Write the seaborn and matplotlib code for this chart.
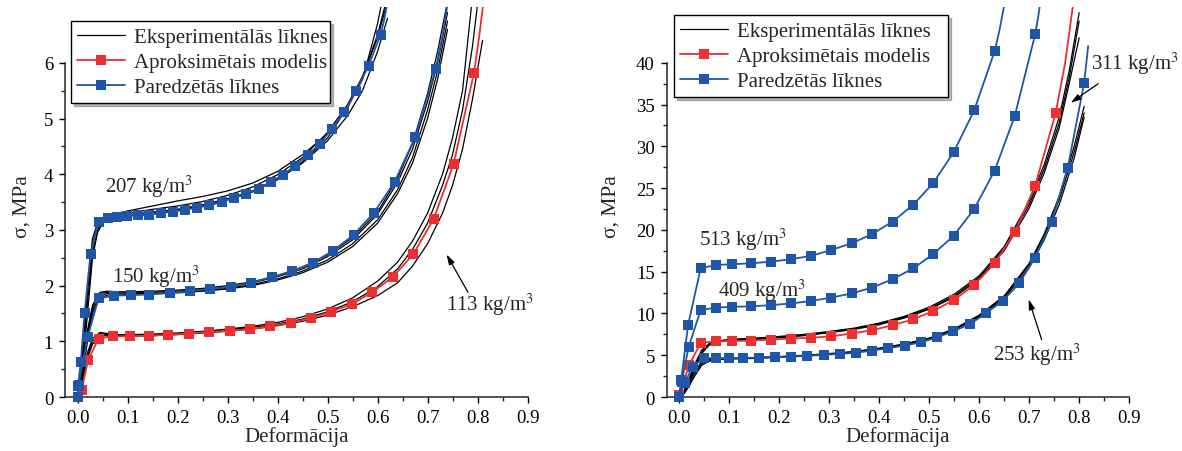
import numpy as np
import matplotlib
matplotlib.use("Agg")
import matplotlib.pyplot as plt
import seaborn as sns
from matplotlib.lines import Line2D
from matplotlib.ticker import MultipleLocator, FixedLocator, FormatStrFormatter

## Data (strain, stress in MPa)

## left panel - experimental curves
EXP_113_STRAIN = [0.0, 0.01, 0.02, 0.03, 0.045, 0.06, 0.08, 0.1, 0.15, 0.2, 0.25, 0.3, 0.35,
                  0.4, 0.45, 0.5, 0.55, 0.6, 0.64, 0.67, 0.7, 0.73, 0.75, 0.77, 0.79, 0.81]
EXP_113_A = [0, 0.35, 0.8, 1.05, 1.16, 1.14, 1.12, 1.12, 1.13, 1.15, 1.18, 1.22, 1.27,
             1.34, 1.44, 1.58, 1.78, 2.08, 2.42, 2.8, 3.3, 4.0, 4.65, 5.5, 7.2, 8.5]
EXP_113_B = [0, 0.3, 0.75, 1.0, 1.14, 1.12, 1.11, 1.11, 1.12, 1.14, 1.17, 1.21, 1.25,
             1.31, 1.4, 1.53, 1.71, 1.98, 2.3, 2.65, 3.12, 3.8, 4.35, 5.15, 6.3, 7.8]
EXP_113_C = [0, 0.25, 0.7, 0.95, 1.1, 1.1, 1.09, 1.09, 1.1, 1.12, 1.15, 1.18, 1.22,
             1.28, 1.36, 1.47, 1.62, 1.82, 2.05, 2.35, 2.75, 3.3, 3.8, 4.45, 5.35, 6.4]

EXP_150_STRAIN = [0.0, 0.01, 0.02, 0.03, 0.045, 0.06, 0.08, 0.1, 0.15, 0.2, 0.25, 0.3, 0.35,
                  0.4, 0.45, 0.5, 0.55, 0.6, 0.64, 0.67, 0.7, 0.72, 0.74]
EXP_150_A = [0, 0.5, 1.15, 1.6, 1.86, 1.88, 1.87, 1.87, 1.88, 1.9, 1.93, 1.98, 2.05,
             2.16, 2.3, 2.52, 2.82, 3.28, 3.85, 4.45, 5.3, 6.0, 6.9]
EXP_150_B = [0, 0.45, 1.1, 1.55, 1.82, 1.86, 1.85, 1.85, 1.86, 1.88, 1.91, 1.95, 2.02,
             2.12, 2.26, 2.46, 2.75, 3.18, 3.72, 4.3, 5.15, 5.85, 6.75]
EXP_150_C = [0, 0.55, 1.2, 1.65, 1.88, 1.9, 1.89, 1.89, 1.9, 1.92, 1.95, 2.0, 2.07,
             2.18, 2.33, 2.55, 2.86, 3.32, 3.92, 4.55, 5.45, 6.2, 7.1]
EXP_150_D = [0, 0.4, 1.0, 1.5, 1.78, 1.83, 1.83, 1.84, 1.85, 1.87, 1.9, 1.94, 2.0,
             2.1, 2.23, 2.42, 2.7, 3.12, 3.65, 4.2, 5.0, 5.7, 6.6]

EXP_207_STRAIN = [0.0, 0.01, 0.02, 0.03, 0.04, 0.05, 0.07, 0.1, 0.15, 0.2, 0.25, 0.3, 0.35,
                  0.4, 0.45, 0.5, 0.54, 0.57, 0.6, 0.62]
EXP_207_A = [0, 0.8, 2.0, 2.85, 3.12, 3.22, 3.28, 3.34, 3.43, 3.52, 3.6, 3.7, 3.84,
             4.05, 4.35, 4.72, 5.2, 5.7, 6.7, 7.6]
EXP_207_B = [0, 0.6, 1.7, 2.6, 3.0, 3.15, 3.23, 3.27, 3.32, 3.37, 3.45, 3.56, 3.7,
             3.92, 4.22, 4.65, 5.2, 5.75, 6.45, 7.1]
EXP_207_C = [0, 0.5, 1.5, 2.5, 2.95, 3.12, 3.2, 3.25, 3.3, 3.36, 3.43, 3.54, 3.68,
             3.9, 4.2, 4.6, 5.05, 5.5, 6.2, 6.8]
EXP_207_D = [0, 0.7, 1.9, 2.75, 3.08, 3.2, 3.26, 3.3, 3.37, 3.43, 3.51, 3.62, 3.77,
             3.99, 4.3, 4.75, 5.25, 5.75, 6.5, 7.2]

## left panel - model (red) and predicted (blue); last two points are line only
MOD_113_STRAIN = [0.0, 0.008, 0.021, 0.042, 0.071, 0.105, 0.142, 0.181, 0.223, 0.263, 0.304,
                  0.345, 0.385, 0.426, 0.467, 0.507, 0.549, 0.589, 0.630, 0.671, 0.712,
                  0.752, 0.793, 0.803, 0.812]
MOD_113_STRESS = [0.0, 0.12, 0.66, 1.05, 1.09, 1.09, 1.10, 1.12, 1.14, 1.17, 1.19,
                  1.22, 1.27, 1.33, 1.42, 1.53, 1.67, 1.88, 2.15, 2.56, 3.19,
                  4.18, 5.82, 6.45, 7.1]

PRED_150_STRAIN = [0.0, 0.002, 0.020, 0.042, 0.073, 0.107, 0.143, 0.184, 0.224, 0.265, 0.306,
                   0.347, 0.388, 0.429, 0.470, 0.510, 0.552, 0.593, 0.634, 0.675, 0.716,
                   0.730, 0.741]
PRED_150_STRESS = [0.0, 0.22, 1.07, 1.77, 1.82, 1.83, 1.84, 1.87, 1.90, 1.94, 1.98,
                   2.05, 2.15, 2.26, 2.41, 2.62, 2.91, 3.31, 3.86, 4.66, 5.88,
                   6.5, 7.1]

PRED_207_STRAIN = [0.0, 0.001, 0.0066, 0.014, 0.026, 0.042, 0.060, 0.079, 0.099, 0.120, 0.142,
                   0.166, 0.190, 0.214, 0.239, 0.263, 0.288, 0.312, 0.337, 0.362, 0.386,
                   0.411, 0.435, 0.460, 0.484, 0.508, 0.533, 0.557, 0.582, 0.606,
                   0.614, 0.620]
PRED_207_STRESS = [0.0, 0.2, 0.63, 1.50, 2.56, 3.15, 3.22, 3.24, 3.25, 3.26, 3.27,
                   3.30, 3.33, 3.36, 3.40, 3.44, 3.50, 3.57, 3.65, 3.74, 3.86,
                   3.99, 4.15, 4.34, 4.54, 4.81, 5.11, 5.49, 5.95, 6.50,
                   6.8, 7.1]

## right panel - experimental curves
EXP_253_STRAIN = [0.0, 0.01, 0.02, 0.03, 0.045, 0.06, 0.08, 0.1, 0.15, 0.2, 0.25, 0.3, 0.35,
                  0.4, 0.45, 0.5, 0.55, 0.6, 0.65, 0.7, 0.73, 0.76, 0.79, 0.81]
EXP_253_A = [0, 0.6, 1.8, 3.0, 4.2, 4.5, 4.6, 4.65, 4.72, 4.85, 5.0, 5.2, 5.45,
             5.85, 6.35, 7.05, 8.15, 9.8, 12.1, 16.0, 19.5, 24.0, 30.0, 34.8]
EXP_253_B = [0, 0.5, 1.5, 2.7, 4.0, 4.4, 4.55, 4.6, 4.68, 4.8, 4.95, 5.15, 5.4,
             5.8, 6.3, 7.0, 8.1, 9.7, 12.0, 15.8, 19.2, 23.6, 29.3, 34.0]
EXP_253_C = [0, 0.4, 1.3, 2.4, 3.8, 4.3, 4.5, 4.55, 4.62, 4.75, 4.9, 5.1, 5.35,
             5.75, 6.25, 6.95, 8.0, 9.6, 11.8, 15.5, 18.8, 23.0, 28.6, 33.5]

EXP_311_STRAIN = [0.0, 0.01, 0.02, 0.03, 0.045, 0.06, 0.08, 0.1, 0.15, 0.2, 0.25, 0.3, 0.35,
                  0.4, 0.45, 0.5, 0.55, 0.6, 0.65, 0.7, 0.73, 0.76, 0.78, 0.8]
EXP_311_A = [0, 0.8, 2.2, 3.8, 5.6, 6.4, 6.75, 6.9, 7.05, 7.25, 7.5, 7.85, 8.25,
             8.85, 9.65, 10.75, 12.3, 14.5, 18.0, 23.4, 27.8, 33.5, 39.0, 46.0]
EXP_311_B = [0, 0.6, 1.9, 3.5, 5.4, 6.3, 6.65, 6.8, 6.95, 7.15, 7.4, 7.75, 8.15,
             8.75, 9.55, 10.6, 12.1, 14.3, 17.8, 23.0, 27.3, 32.8, 38.2, 45.0]
EXP_311_C = [0, 0.5, 1.7, 3.3, 5.2, 6.2, 6.6, 6.75, 6.9, 7.1, 7.35, 7.7, 8.1,
             8.65, 9.45, 10.5, 11.95, 14.1, 17.5, 22.6, 26.8, 32.2, 37.5, 43.0]

## right panel - model (red) and predicted (blue); trailing points are line only
MOD_311_STRAIN = [0.0, 0.020, 0.043, 0.073, 0.106, 0.143, 0.183, 0.224, 0.264, 0.304, 0.345,
                  0.386, 0.427, 0.468, 0.508, 0.549, 0.590, 0.631, 0.671, 0.712, 0.753,
                  0.772, 0.789]
MOD_311_STRESS = [0.2, 3.8, 6.5, 6.67, 6.7, 6.75, 6.87, 7.0, 7.1, 7.27, 7.6,
                  8.0, 8.6, 9.3, 10.3, 11.6, 13.4, 16.0, 19.7, 25.3, 34.0,
                  40.0, 47.5]

PRED_253_STRAIN = [0.0, 0.011, 0.027, 0.049, 0.073, 0.100, 0.128, 0.159, 0.191, 0.224, 0.256,
                   0.289, 0.321, 0.353, 0.386, 0.418, 0.451, 0.483, 0.516, 0.548, 0.582,
                   0.613, 0.647, 0.680, 0.712, 0.745, 0.777, 0.810, 0.818]
PRED_253_STRESS = [0.0, 1.7, 3.6, 4.65, 4.65, 4.65, 4.7, 4.7, 4.77, 4.85, 4.93,
                   5.05, 5.16, 5.3, 5.56, 5.84, 6.16, 6.55, 7.15, 7.87, 8.74,
                   10.0, 11.5, 13.6, 16.7, 21.0, 27.4, 37.6, 42.0]

PRED_409_STRAIN = [0.0, 0.005, 0.019, 0.043, 0.073, 0.106, 0.143, 0.183, 0.224, 0.264, 0.304,
                   0.345, 0.386, 0.427, 0.468, 0.508, 0.549, 0.590, 0.631, 0.671, 0.712,
                   0.718, 0.723]
PRED_409_STRESS = [0.0, 1.8, 6.0, 10.4, 10.7, 10.8, 10.85, 11.0, 11.2, 11.5, 11.9,
                   12.4, 13.1, 14.1, 15.4, 17.1, 19.3, 22.5, 27.1, 33.6, 43.4,
                   45.5, 47.5]

PRED_513_STRAIN = [0.0, 0.004, 0.018, 0.043, 0.073, 0.106, 0.143, 0.183, 0.224, 0.264, 0.304,
                   0.345, 0.386, 0.427, 0.468, 0.508, 0.549, 0.590, 0.631,
                   0.641, 0.652]
PRED_513_STRESS = [0.0, 2.0, 8.66, 15.4, 15.8, 15.9, 16.0, 16.2, 16.5, 16.9, 17.6,
                   18.4, 19.5, 21.0, 23.0, 25.6, 29.3, 34.3, 41.4,
                   44.0, 47.5]

LEGEND_LABELS = ["Eksperimentālās līknes", "Aproksimētais modelis", "Paredzētās līknes"]

## Style

BLACK = "black"
RED = "#ee2f2f"
BLUE = "#1f56a8"
MS = 6.8

sns.set_style("ticks")
plt.rcParams["font.family"] = ["Liberation Serif", "DejaVu Serif"]
plt.rcParams["mathtext.fontset"] = "stix"


def exp_curves(ax, strain, curves):
    for ys in curves:
        sns.lineplot(x=strain, y=ys, ax=ax, color=BLACK, lw=0.9,
                     estimator=None, sort=False, legend=False, zorder=2)


def fit_curve(ax, strain, stress, color, n_tail):
    n_mark = len(strain) - n_tail
    sns.lineplot(x=strain, y=stress, ax=ax, color=color, lw=1.3,
                 estimator=None, sort=False, legend=False, zorder=3,
                 marker="s", markersize=MS, markeredgewidth=0,
                 markevery=list(range(n_mark)))


def style_axes(ax, ytop, ymax_tick, ymajor, yminor, ylabelpad):
    ax.set_xlim(-0.025, 0.9)
    ax.set_ylim(-ytop * 0.017, ytop)
    ax.spines[["top", "right"]].set_visible(False)
    ax.spines["left"].set_bounds(0, ymax_tick)
    ax.spines["bottom"].set_position(("data", 0))
    ax.spines["bottom"].set_bounds(-0.025, 0.9)
    for s in ("left", "bottom"):
        ax.spines[s].set_linewidth(1.1)
    ax.xaxis.set_major_locator(MultipleLocator(0.1))
    ax.xaxis.set_minor_locator(MultipleLocator(0.05))
    ax.xaxis.set_major_formatter(FormatStrFormatter("%.1f"))
    ax.yaxis.set_major_locator(FixedLocator(np.arange(0, ymax_tick + 0.01, ymajor)))
    ax.yaxis.set_minor_locator(FixedLocator(np.arange(yminor, ymax_tick, ymajor)))
    ax.tick_params(which="major", direction="out", length=4.5, width=1.0,
                   labelsize=13.5, pad=4, colors="black")
    ax.tick_params(which="minor", direction="out", length=2.6, width=1.0)
    ax.set_xlabel("Deformācija", fontsize=15, labelpad=0)
    ax.set_ylabel("σ, MPa", fontsize=15.5, labelpad=ylabelpad)
    ax.grid(False)


def add_legend(ax, bbox):
    handles = [
        Line2D([], [], color=BLACK, lw=0.9),
        Line2D([], [], color=RED, lw=1.3, marker="s", markersize=MS, markeredgewidth=0),
        Line2D([], [], color=BLUE, lw=1.3, marker="s", markersize=MS, markeredgewidth=0),
    ]
    leg = ax.legend(handles, LEGEND_LABELS, loc="upper left", bbox_to_anchor=bbox,
                    mode="expand", fontsize=15, frameon=True, fancybox=False,
                    shadow={"ox": 2, "oy": -2, "color": "0.45"}, framealpha=1,
                    edgecolor="black", handlelength=2.3, handletextpad=0.4,
                    labelspacing=0.26, borderpad=0.3, borderaxespad=0)
    leg.get_frame().set_linewidth(1.0)
    leg.set_zorder(10)


def label(ax, x, y, text):
    ax.text(x, y, text, fontsize=15, ha="left", va="center", zorder=6)


def arrow(ax, tail, head):
    ax.annotate("", xy=head, xytext=tail, zorder=6,
                arrowprops=dict(arrowstyle="-|>,head_length=0.6,head_width=0.18",
                                color="black", lw=0.9, shrinkA=0, shrinkB=0))


fig = plt.figure(figsize=(11.82, 4.52), dpi=100)
ax1 = fig.add_axes([0.0550, 0.1047, 0.3913, 0.8774])
ax2 = fig.add_axes([0.5640, 0.1047, 0.3913, 0.8774])

## Left panel
exp_curves(ax1, EXP_113_STRAIN, [EXP_113_A, EXP_113_B, EXP_113_C])
exp_curves(ax1, EXP_150_STRAIN, [EXP_150_A, EXP_150_B, EXP_150_C, EXP_150_D])
exp_curves(ax1, EXP_207_STRAIN, [EXP_207_A, EXP_207_B, EXP_207_C, EXP_207_D])
fit_curve(ax1, MOD_113_STRAIN, MOD_113_STRESS, RED, 2)
fit_curve(ax1, PRED_150_STRAIN, PRED_150_STRESS, BLUE, 2)
fit_curve(ax1, PRED_207_STRAIN, PRED_207_STRESS, BLUE, 2)
style_axes(ax1, 7.0, 6, 1, 0.5, 9)
add_legend(ax1, (0.013, 0.965, 0.56, 0.0))
label(ax1, 0.055, 3.8, "207 kg/m$^3$")
label(ax1, 0.068, 2.17, "150 kg/m$^3$")
label(ax1, 0.736, 1.67, "113 kg/m$^3$")
arrow(ax1, (0.781, 1.88), (0.738, 2.56))

## Right panel
exp_curves(ax2, EXP_253_STRAIN, [EXP_253_A, EXP_253_B, EXP_253_C])
exp_curves(ax2, EXP_311_STRAIN, [EXP_311_A, EXP_311_B, EXP_311_C])
fit_curve(ax2, MOD_311_STRAIN, MOD_311_STRESS, RED, 2)
fit_curve(ax2, PRED_253_STRAIN, PRED_253_STRESS, BLUE, 1)
fit_curve(ax2, PRED_409_STRAIN, PRED_409_STRESS, BLUE, 2)
fit_curve(ax2, PRED_513_STRAIN, PRED_513_STRESS, BLUE, 2)
style_axes(ax2, 46.67, 40, 5, 2.5, 11)
add_legend(ax2, (0.016, 0.98, 0.593, 0.0))
label(ax2, 0.040, 18.9, "513 kg/m$^3$")
label(ax2, 0.078, 12.8, "409 kg/m$^3$")
label(ax2, 0.823, 40.0, "311 kg/m$^3$")
label(ax2, 0.627, 5.16, "253 kg/m$^3$")
arrow(ax2, (0.838, 37.5), (0.783, 35.2))
arrow(ax2, (0.725, 6.87), (0.699, 11.7))

fig.savefig("out.png", dpi=100)
